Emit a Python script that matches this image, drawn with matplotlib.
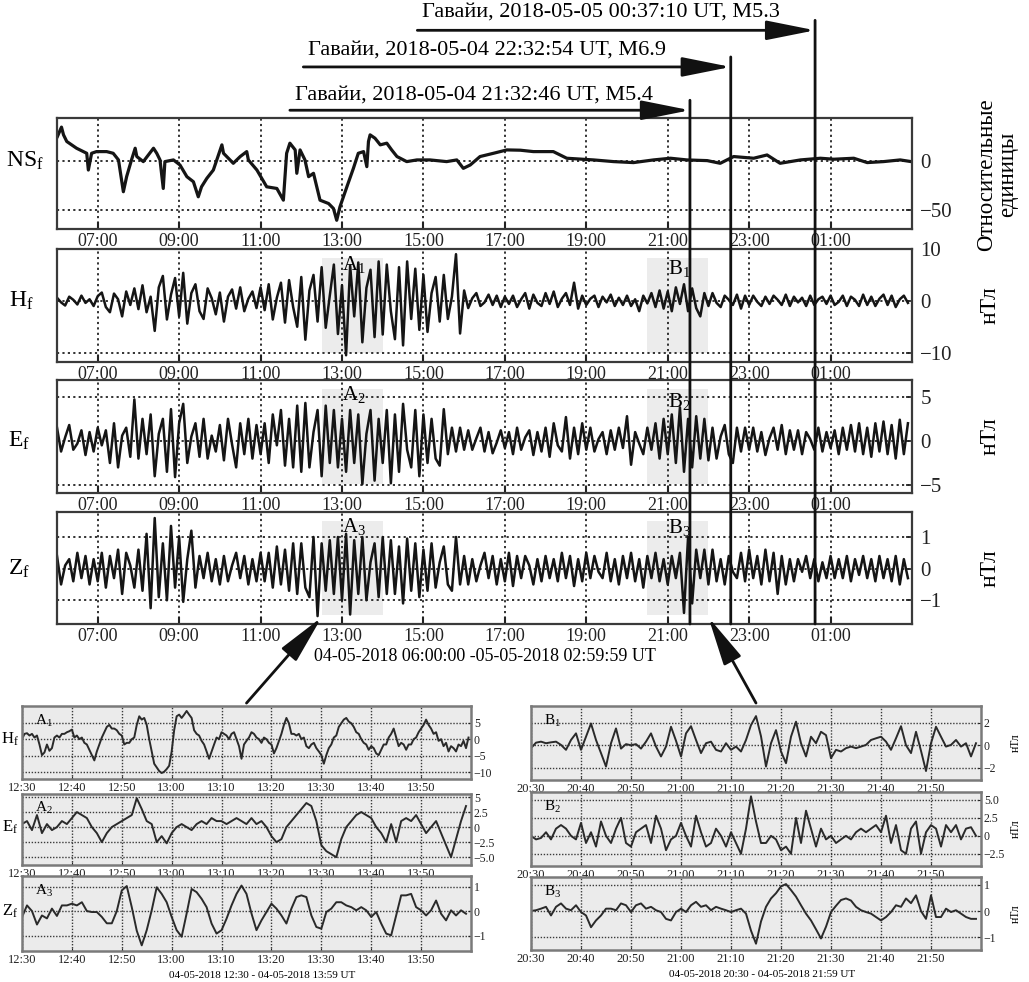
import numpy as np
import pandas as pd
import matplotlib
matplotlib.use("Agg")
import matplotlib.pyplot as plt
import matplotlib.transforms as mtransforms
from matplotlib.patches import ConnectionPatch

plt.rcParams['font.family'] = ['Liberation Serif', 'DejaVu Serif']
plt.rcParams['mathtext.fontset'] = 'custom'
plt.rcParams['mathtext.rm'] = 'Liberation Serif'
plt.rcParams['mathtext.it'] = 'Liberation Serif:italic'

# ------------------------------------------------------------------ data
window_start = '2018-05-04 06:00:00'
main_tick_hours = [1, 3, 5, 7, 9, 11, 13, 15, 17, 19]
main_tick_labels = ['07:00', '09:00', '11:00', '13:00', '15:00',
                    '17:00', '19:00', '21:00', '23:00', '01:00']
main_xlabel = '04-05-2018 06:00:00 -05-05-2018 02:59:59 UT'

event_times = ['2018-05-04 21:32:46', '2018-05-04 22:32:54', '2018-05-05 00:37:10']
event_mags = ['M5.4', 'M6.9', 'M5.3']
event_place = 'Гавайи'

region_a = ['2018-05-04 12:30:00', '2018-05-04 14:00:00']
region_b = ['2018-05-04 20:30:00', '2018-05-04 22:00:00']

# NS_f (relative units): sample hours since 06:00 and values
ns_t = [0.01, 0.11, 0.16, 0.24, 0.48, 0.73, 0.77, 0.85, 0.97, 1.22, 1.38, 1.51, 1.63,
        1.71, 1.83, 1.92, 1.96, 2.12, 2.37, 2.45, 2.53, 2.61, 2.65, 2.86, 3.02, 3.19,
        3.35, 3.47, 3.55, 3.68, 3.84, 4.05, 4.09, 4.33, 4.50, 4.66, 4.70, 4.91, 5.15,
        5.40, 5.56, 5.64, 5.72, 5.85, 5.89, 5.97, 6.09, 6.18, 6.30, 6.46, 6.67, 6.79,
        6.87, 6.95, 7.12, 7.28, 7.40, 7.53, 7.61, 7.65, 7.69, 7.81, 7.94, 8.10, 8.22,
        8.35, 8.59, 8.84, 9.16, 9.57, 9.82, 9.98, 10.15, 10.39, 10.72, 11.05, 11.38,
        11.70, 12.19, 12.52, 13.18, 13.67, 14.16, 14.65, 15.07, 15.47, 15.97, 16.29,
        16.62, 17.11, 17.44, 17.76, 18.26, 18.75, 19.08, 19.57, 19.90, 20.30, 20.71, 20.98]
ns_v = [24.3, 33.8, 26.0, 19.3, 12.5, 7.4, -9.5, 7.4, 9.1, 9.1, 7.4, 0.7, -31.4,
        -16.2, 0.7, 12.5, 4.1, -1.0, 12.5, 7.4, 0.7, -28.1, -1.0, 0.7, -4.4, -16.2,
        -21.3, -36.5, -26.4, -17.9, -9.5, 15.9, 7.4, -2.7, 4.1, 9.1, 0.7, -9.5, -26.4,
        -28.1, -39.9, 7.4, 17.6, 10.8, -12.8, 10.8, 0.7, -16.2, -12.8, -39.9, -43.3, -48.3,
        -60.2, -46.6, -26.4, -7.8, 7.4, 9.1, -6.1, 19.3, 26.0, 22.6, 15.9, 17.6, 10.8,
        4.1, -1.0, 0.7, 0.7, -1.0, 0.7, -7.8, -4.4, 4.1, 7.4, 10.8, 10.5,
        9.1, 9.1, 2.4, 0.7, -1.0, -2.0, 0.7, 2.4, 0.7, 0.0, -2.7,
        4.1, 2.4, 5.7, -2.7, 0.7, 2.4, 1.4, 2.4, -2.0, -1.0, 0.7, -1.0]

# H_f, E_f, Z_f (nT): 10 samples per hour from 06:00
h_f = [0.6, -0.3, -0.9, 0.8, 0.2, -0.7, 1.0, -0.4, 0.3, -1.0,
       0.9, 1.6, -1.2, -2.2, 1.4, 0.3, -3.0, 1.8, -0.8, 2.4,
       -1.6, 3.0, -2.2, 0.8, -5.8, 2.6, 4.8, -3.6, 1.2, 4.4,
       -3.0, 5.4, -4.4, 1.5, 3.2, -2.0, -3.5, 2.4, 0.5, -2.6,
       1.6, -4.0, 0.8, 2.2, -1.5, 2.6, -2.0, 0.4, 1.8, -1.4,
       2.6, -1.8, 3.2, -3.6, 0.6, 3.5, -4.2, 4.0, -1.2, -5.0,
       4.6, -7.5, 2.0, 5.0, -4.0, 6.5, -5.2, 1.0, 7.0, -6.4,
       3.0, -10.5, 6.8, -3.0, 7.4, -8.0, 2.5, 6.0, -7.0, 7.6,
       -6.5, 7.0, -2.0, -7.4, 6.5, -8.6, 7.6, -3.5, 6.2, -5.6,
       5.0, -6.0, 1.5, 4.6, -4.0, 5.0, -3.5, 0.8, 9.0, -6.3,
       2.0, -1.4, 0.5, 1.5, -1.0, -0.3, 1.2, -0.8, 1.0, -1.2,
       0.8, -0.6, 1.0, -1.2, 0.3, 1.5, -1.5, 1.2, -0.4, -1.0,
       1.5, -0.6, 1.8, -1.2, 0.4, 1.5, -0.8, 3.5, -1.5, 1.0,
       -0.8, 0.4, 1.0, -1.2, 0.8, -0.3, 1.2, -1.0, 0.6, -0.8,
       1.0, -1.0, 0.3, -2.0, 1.0, -0.5, 1.5, -1.2, 2.0, -1.5,
       1.8, -2.0, 2.6, -0.6, 3.2, -2.0, 2.4, -1.4, -3.0, 1.5,
       -1.0, 1.5, -0.4, -1.2, 1.0, 0.2, -0.8, 1.2, -1.5, 1.0,
       -0.8, 1.0, -0.2, -1.0, 0.8, -0.6, 1.0, 0.2, -0.8, 1.2,
       -1.0, 0.8, -0.3, 0.6, -1.0, 1.0, -0.8, 0.3, 0.8, -0.6,
       1.0, -0.8, -0.2, 1.0, -1.0, 0.8, 0.2, -1.0, 1.2, -0.8,
       0.8, -1.0, 0.4, 1.2, -0.8, 1.0, -1.2, 0.3, 1.0, -0.4]
e_f = [1.5, -1.2, 0.4, 1.8, -1.0, -0.3, 1.2, -1.6, 1.0, -1.2,
       1.5, -0.5, 1.2, -2.5, 2.0, -3.0, 0.6, 1.5, -1.8, 4.7,
       -2.0, 2.5, -1.5, 3.0, -4.0, 0.8, 2.5, -3.5, 3.6, -4.1,
       2.0, 4.2, -2.5, 0.5, 2.0, -1.8, 2.5, -2.0, 0.6, -1.2,
       1.8, -2.2, 2.5, -0.4, -3.0, 2.0, -1.5, 2.5, -2.0, 1.8,
       -1.5, 2.0, -2.5, 3.0, -0.5, 3.5, -2.8, 2.5, -3.0, 4.0,
       -3.5, 4.3, -3.0, 1.0, 3.5, -4.0, 4.0, -2.5, 3.5, -3.0,
       2.5, -3.5, 3.5, -2.5, 3.0, -4.9, 0.8, 3.5, -4.5, 2.5,
       -2.5, 3.5, -4.8, 3.0, -3.5, 4.2, -1.0, -3.0, 3.5, -4.0,
       3.0, -2.5, 2.5, -2.0, -2.8, 3.6, -1.5, 1.5, -1.2, 1.5,
       -1.0, 1.2, -1.0, 0.3, 1.5, -1.2, 1.0, -1.4, -0.2, 1.2,
       -0.8, 1.0, -1.5, 1.5, -1.0, 0.4, 1.2, -1.6, 1.0, -1.2,
       1.5, -1.8, 2.0, -0.5, -1.2, 2.7, -2.0, 1.5, -1.5, 2.0,
       -1.0, 1.5, -1.2, 0.2, 1.0, -1.5, 1.2, -1.0, 1.5, -0.8,
       2.8, -2.7, 1.0, -0.3, -1.5, 1.5, -1.0, 2.0, -2.0, 2.5,
       -1.5, 3.0, -2.5, 3.8, -3.5, 2.5, -3.0, 2.8, -2.0, 2.5,
       -2.2, 1.5, -2.0, 0.5, 1.8, -1.5, -2.5, 1.5, -1.2, 1.5,
       -1.0, 1.5, -1.2, 1.0, -1.6, 0.3, 1.5, -1.0, 1.8, -1.5,
       1.2, -1.0, 1.2, -1.5, 1.0, 0.2, -1.0, 1.5, -1.2, 1.0,
       -0.8, 1.2, -1.5, 1.5, -1.0, 1.8, -1.2, 2.0, -1.5, 1.5,
       -1.8, 2.0, -1.2, 2.2, -1.5, 1.8, -2.0, 2.4, -1.5, 2.0]
z_f = [0.4, -0.5, 0.1, 0.3, -0.4, 0.5, -0.3, 0.4, -0.5, 0.3,
       -0.4, 0.5, -0.6, 0.4, -0.3, 0.6, -0.8, 0.5, 0.1, -0.6,
       0.6, -0.7, 1.1, -1.25, 1.6, -0.9, 0.8, -1.0, 1.35, -0.6,
       1.0, -1.05, 0.3, 1.2, -0.6, 0.4, -0.3, 0.5, -0.4, 0.3,
       -0.5, 0.4, -0.4, 0.1, 0.5, -0.3, 0.4, -0.5, 0.3, -0.4,
       0.5, -0.4, 0.5, -0.6, 0.7, -0.5, 0.6, -0.7, 0.8, -0.8,
       0.8, -0.6, -0.9, 1.0, -1.5, 0.8, -0.7, 0.9, -0.8, 1.0,
       -1.0, 1.1, -1.45, 0.9, -0.8, 1.0, -1.0, 0.2, 0.8, -0.9,
       1.0, -0.8, 0.9, -0.8, 0.7, -1.1, 0.95, -0.7, 0.8, -0.9,
       0.6, -0.7, 0.8, -0.6, 0.2, 0.7, -0.5, -0.7, 1.0, -0.5,
       0.4, -0.5, 0.3, -0.4, 0.1, 0.5, -0.3, 0.4, -0.5, 0.3,
       -0.4, 0.5, -0.55, 0.4, -0.3, 0.4, 0.1, -0.5, 0.3, -0.4,
       0.4, -0.3, 0.3, -0.4, 0.5, -0.3, 0.4, -0.55, 0.3, -0.4,
       0.5, -0.3, 0.4, -0.1, -0.3, 0.5, -0.4, 0.3, -0.5, 0.4,
       -0.3, 0.5, -0.4, 0.3, -0.6, 0.4, -0.3, 0.5, -0.4, 0.3,
       -0.5, 0.4, -0.3, 0.5, -1.4, 1.0, -1.1, 0.6, -0.3, 0.6,
       -0.5, 0.6, -0.4, 0.3, -0.5, 0.4, -0.1, -0.3, 0.5, -0.4,
       0.6, -0.3, 0.4, -0.5, 0.6, -0.4, 0.5, -0.8, 0.4, -0.5,
       0.3, -0.4, 0.3, -0.1, 0.4, -0.3, 0.3, -0.4, 0.2, -0.3,
       0.4, -0.3, 0.3, -0.3, 0.4, -0.4, 0.3, -0.2, 0.4, -0.3,
       0.3, -0.4, 0.4, -0.3, 0.3, -0.4, 0.4, -0.5, 0.3, -0.3]

# zoomed windows (90 minutes each)
a_tick_labels = ['12:30', '12:40', '12:50', '13:00', '13:10', '13:20', '13:30', '13:40', '13:50']
b_tick_labels = ['20:30', '20:40', '20:50', '21:00', '21:10', '21:20', '21:30', '21:40', '21:50']
a_caption = '04-05-2018 12:30 - 04-05-2018 13:59 UT'
b_caption = '04-05-2018 20:30 - 04-05-2018 21:59 UT'

a1_h = [0, 1.6, 1.8, 1.1, 1.6, 0.5, 1.1, -1.6, -4.8, -4.0, -1.6, -3.5, -2.7, 0.5, 1.1, 0.5,
        1.6, 1.6, 2.1, 2.4, 2.9, 0.5, 1.1, 0, 0.5, -1.1, -1.6, -3.2, -4.8, -6.4, -3.7, -1.6,
        0.5, 2.1, 3.7, 4.3, 3.2, 3.2, 2.7, 1.6, 1.1, -1.6, -1.1, -1.1, 0, 0.5, 4.3, 6.9,
        5.9, 6.4, 4.3, 0, -3.7, -7.4, -8.5, -9.6, -10.2, -9.8, -9.0, -8.0, -3.7, 2.7, 6.9, 7.4,
        6.4, 7.4, 8.5, 7.4, 6.4, 2.7, 1.6, 1.1, -0.5, -1.6, -3.7, -5.9, -3.7, -1.6, 0.5, 0,
        2.1, 1.6, 1.1, 0, 1.6, 2.1, 0, -2.1, -5.9, -1.6, -0.5, 0.5, 2.1, 1.6, 0.5, 0,
        -1.1, 0.5, 0, -1.1, -1.6, -4.3, -2.7, -0.5, 1.6, 4.3, 6.4, 4.8, 1.6, 1.6, 1.1, 1.6,
        0, 0.5, -2.1, -2.7, -1.6, -1.1, -2.7, -3.7, -4.8, -7.4, -4.8, -2.7, -1.6, 0.5, 1.1, 3.7,
        4.8, 5.9, 6.4, 5.3, 4.8, 3.7, 2.1, 1.6, 0, -1.1, -1.6, -3.2, -2.1, -2.7, -4.3, -4.8,
        -3.2, -1.6, -1.6, 0.5, 1.6, 3.2, 0.5, -2.1, -1.1, -1.6, -3.2, -1.6, -1.6, 0, 0.5, 2.1,
        3.2, 4.3, 5.9, 4.3, 3.2, 1.6, 2.1, -0.5, 0, -2.1, -1.1, -3.7, -2.1, -2.7, -3.7, -1.6,
        -2.1, -0.5, -2.7, 0.5]
a2_e = [0.5, 1.0, -0.5, 2.0, -1.0, 0.5, -0.5, 0.0, 1.0, 0.5,
        1.5, 2.5, 2.0, 1.5, 0.0, -1.0, -2.5, -1.0, 0.0, 0.5,
        1.0, 1.5, 2.0, 4.8, 3.0, 1.0, 0.5, -2.5, -1.5, -2.7,
        -1.0, 0.0, 0.5, 0.0, -0.5, 0.5, 1.0, 0.5, 1.5, 1.0,
        1.0, 0.5, 1.0, 1.5, 1.0, 0.5, 1.5, 0.5, 1.0, 0.0,
        -1.5, -2.5, -2.0, 0.0, 1.0, 2.0, 3.0, 4.0, 3.5, 1.0,
        -3.0, -4.0, -4.5, -5.0, -2.0, 0.0, 1.0, 2.0, 2.5, 2.0,
        1.5, 0.0, -1.0, -2.5, 0.5, -2.5, 1.0, 1.5, 1.0, 2.0,
        0.5, -1.0, 0.0, 1.0, -1.0, -3.0, -5.0, -2.0, 1.0, 3.5]
a3_z = [-0.25, 0.23, 0.0, -0.55, -0.18, -0.3, 0.1, -0.2, 0.23, 0.23,
        0.3, 0.23, 0.36, 0.0, -0.04, -0.04, -0.24, -0.5, -0.5, 0.0,
        0.84, 1.02, 0.16, -0.8, -1.4, -0.78, 0.03, 0.97, 0.7, 0.36,
        -0.24, -0.78, -1.05, -0.1, 0.9, 0.77, 0.5, 0.16, -0.51, -0.92,
        -0.78, -0.31, 0.23, 0.7, 1.04, 0.7, -0.1, -0.78, -0.38, -0.04,
        0.3, 0.1, -0.18, -0.51, 0.1, 0.57, 0.64, 0.57, -0.18, -0.65,
        -0.72, -0.04, 0.1, 0.36, 0.36, 0.23, 0.16, 0.03, 0.16, 0.03,
        -0.24, -0.04, -0.51, -0.92, -0.99, -0.18, 0.64, 0.64, 0.7, 0.16,
        0.03, -0.18, 0.03, 0.43, -0.11, -0.38, 0.03, -0.18, 0.03, -0.11]
b1_h = [-0.26, 0.23, 0.32, 0.18, 0.26, 0.32, 0.03, -0.41, 0.47, 1.06,
        -0.41, 0.76, 1.94, 0.47, -0.7, -1.9, 0.18, 1.5, -0.3, 0.1,
        0.0, 0.1, -0.3, 0.32, 1.06, -0.12, -1.0, -0.12, 1.65, 0.4,
        -1.0, 1.06, 1.7, 0.47, -0.7, 0.18, 0.32, -0.41, -0.56, 0.18,
        -0.41, -0.12, -0.56, 0.47, 1.8, 2.6, 0.8, -1.9, 0.18, 1.35,
        -0.56, -1.6, 0.76, 2.1, 0.18, -1.0, 0.76, 0.18, 1.2, 0.9,
        -1.15, -0.41, -0.56, -0.26, -0.12, -0.26, -0.12, 0.03, 0.47, 0.62,
        0.76, 0.32, -0.41, 0.62, 1.7, 0.0, -0.7, 1.2, -0.5, -2.3,
        0.18, 1.65, 0.76, -0.12, 0.03, 0.47, -0.12, 0.18, -1.0, 0.18]
b2_e = [0.0, -0.5, -0.3, 0.5, -0.5, 1.0, 1.5, 1.0, 0.0, -0.5,
        1.8, -1.0, 0.5, -1.5, 2.0, 0.0, -1.0, 1.0, 2.5, -1.0,
        -1.5, 0.5, 1.0, 1.5, -1.0, 2.8, 1.0, -2.0, -0.5, 0.0,
        1.8, 0.0, -1.5, 2.8, 0.5, -1.5, -1.0, 1.0, 0.0, -1.5,
        0.5, -1.0, -2.5, 1.0, 5.5, 2.0, -1.0, -1.0, 0.0, -0.5,
        -2.0, -1.5, -2.5, 2.5, -1.0, 3.5, 1.0, -1.5, 1.0, -0.5,
        0.0, -1.0, -0.5, 0.0, -0.5, 0.5, 1.0, 0.5, 1.0, 1.5,
        0.5, 2.8, -1.0, 1.5, -2.0, -2.5, 1.0, 2.0, -2.5, 0.5,
        1.5, 1.0, -1.5, 1.5, 0.5, 1.5, -0.5, 1.0, 1.2, 0.0]
b3_z = [0.0, 0.03, 0.09, 0.16, -0.17, 0.16, 0.29, 0.09, 0.03, 0.22,
        -0.04, -0.17, -0.62, -0.36, -0.17, 0.09, 0.09, 0.03, 0.29, 0.22,
        -0.04, 0.22, 0.29, 0.09, 0.16, 0.03, -0.04, -0.3, -0.36, -0.04,
        0.09, -0.04, 0.22, 0.35, 0.16, 0.22, 0.03, 0.16, 0.09, 0.03,
        -0.04, 0.03, 0.09, -0.1, -0.75, -1.25, -0.4, 0.16, 0.48, 0.68,
        0.94, 1.03, 0.8, 0.55, 0.22, -0.1, -0.36, -0.7, -1.05, -0.6,
        -0.04, 0.2, 0.42, 0.48, 0.4, 0.16, 0.03, -0.04, -0.1, -0.23,
        -0.36, -0.23, -0.04, 0.22, 0.16, 0.48, 0.3, 0.6, 0.0, -0.3,
        0.6, -0.23, -0.23, 0.09, -0.04, 0.03, -0.1, -0.23, -0.3, -0.3]

# ------------------------------------------------------------------ figure
W, H = 1029, 982
fig = plt.figure(figsize=(W / 100, H / 100), dpi=100)


def px_axes(x0, y0, x1, y1):
    return fig.add_axes([x0 / W, 1 - y1 / H, (x1 - x0) / W, (y1 - y0) / H])


start = pd.Timestamp(window_start)


def hours(s):
    return (pd.Timestamp(s) - start).total_seconds() / 3600.0


ink = '#151515'
grid_kw = dict(linestyle=(0, (1.2, 1.8)), color='#222222', linewidth=1.3)


def style_main(ax, ylim, yticks, yticklabels):
    ax.set_xlim(0, 21)
    ax.set_ylim(*ylim)
    ax.set_xticks(main_tick_hours)
    ax.set_xticklabels(main_tick_labels, fontsize=13)
    ax.yaxis.tick_right()
    ax.set_yticks(yticks)
    ax.set_yticklabels(yticklabels, fontsize=15)
    ax.tick_params(axis='x', direction='in', length=5, width=1.5, pad=3, colors='#222')
    ax.tick_params(axis='y', direction='in', length=4, width=1.2, pad=6, colors='#222')
    ax.grid(True, **grid_kw)
    ax.set_axisbelow(True)
    for s in ax.spines.values():
        s.set_linewidth(1.6)
        s.set_color('#3a3a3a')


ax1 = px_axes(57, 118, 912, 229)
ax2 = px_axes(57, 249, 912, 362)
ax3 = px_axes(57, 380, 912, 493)
ax4 = px_axes(57, 512, 912, 624)

ax1.plot(ns_t, ns_v, color=ink, lw=2.3)
style_main(ax1, (-69, 43), [0, -50], ['0', '\u221250'])

for ax, series, ylim, yt, ytl in [
        (ax2, h_f, (-11.8, 10.0), [10, 0, -10], ['10', '0', '\u221210']),
        (ax3, e_f, (-5.9, 6.9), [5, 0, -5], ['5', '0', '\u22125']),
        (ax4, z_f, (-1.75, 1.79), [1, 0, -1], ['1', '0', '\u22121'])]:
    for reg in (region_a, region_b):
        ax.axvspan(hours(reg[0]), hours(reg[1]), ymin=0.08, ymax=0.92,
                   color='#ececec', zorder=0.5, lw=0)
    ax.plot(np.arange(len(series)) / 10.0, series, color=ink, lw=1.8, zorder=2)
    style_main(ax, ylim, yt, ytl)

ax4.set_xlabel(main_xlabel, fontsize=13, labelpad=2)

# left labels
for ax, lab, xf in [(ax1, r'NS$_\mathrm{f}$', -0.037), (ax2, r'H$_\mathrm{f}$', -0.042),
                    (ax3, r'E$_\mathrm{f}$', -0.044), (ax4, r'Z$_\mathrm{f}$', -0.044)]:
    tr = mtransforms.blended_transform_factory(ax.transAxes, ax.transData)
    ax.text(xf, 0, lab, transform=tr, ha='center', va='center', fontsize=17)

# right unit labels
ax1.text(1.099, 0.49, 'Относительные\nединицы', transform=ax1.transAxes, rotation=90,
         ha='center', va='center', fontsize=16.5, linespacing=1.0)
for ax in (ax2, ax3, ax4):
    ax.text(1.091, 0.5, 'нТл', transform=ax.transAxes, rotation=90,
            ha='center', va='center', fontsize=17)

# region labels in main panels
for ax, i, ya, yb in [(ax2, 1, 0.86, 0.83), (ax3, 2, 0.87, 0.81), (ax4, 3, 0.87, 0.86)]:
    tr = mtransforms.blended_transform_factory(ax.transData, ax.transAxes)
    ax.text(hours(region_a[0]) + 0.5, ya, 'A$_{%d}$' % i, transform=tr, fontsize=15,
            ha='left', va='center', zorder=5)
    ax.text(hours(region_b[0]) + 0.5, yb, 'B$_{%d}$' % i, transform=tr, fontsize=15,
            ha='left', va='center', zorder=5)

# earthquake markers
ev_h = [hours(s) for s in event_times]
arrow_y = [1.07, 1.46, 1.79]        # axes fraction of ax1 (layout)
text_y = [1.21, 1.615, 1.955]
arrow_x0 = [5.72, 6.05, 8.85]       # hours (layout)
x1tr = ax1.get_xaxis_transform()
x4tr = ax4.get_xaxis_transform()
for k in range(3):
    con = ConnectionPatch(xyA=(ev_h[k], 0.0), coordsA=x4tr,
                          xyB=(ev_h[k], arrow_y[k] + 0.09), coordsB=x1tr,
                          color='#111', lw=2.0, zorder=10)
    fig.add_artist(con)
    ax1.annotate('', xy=(ev_h[k], arrow_y[k]), xycoords=x1tr,
                 xytext=(arrow_x0[k], arrow_y[k]), textcoords=x1tr,
                 arrowprops=dict(arrowstyle='-|>,head_length=1.5,head_width=0.3',
                                 lw=2.0, color='#111', shrinkA=0, shrinkB=0,
                                 mutation_scale=20),
                 annotation_clip=False)
    ax1.text(arrow_x0[k] + 0.12, text_y[k],
             '%s, %s UT, %s' % (event_place, event_times[k], event_mags[k]),
             transform=x1tr, fontsize=16, ha='left', va='center', clip_on=False)

# ------------------------------------------------------------------ small panels
sa1 = px_axes(22, 706, 471, 779)
sa2 = px_axes(22, 794, 471, 865)
sa3 = px_axes(22, 876, 471, 951)
sb1 = px_axes(531, 706, 981, 780)
sb2 = px_axes(531, 792, 981, 866)
sb3 = px_axes(531, 877, 981, 950)

small_grid = dict(linestyle=(0, (1.0, 1.2)), color='#3a3a3a', linewidth=1.0)


def style_small(ax, labels, ylim, yticks, yticklabels):
    ax.set_facecolor('#ebebeb')
    ax.set_xlim(0, 90)
    ax.set_ylim(*ylim)
    ax.set_xticks(range(0, 90, 10))
    ax.set_xticklabels(labels, fontsize=9)
    ax.yaxis.tick_right()
    ax.set_yticks(yticks)
    ax.set_yticklabels(yticklabels, fontsize=8.5)
    ax.tick_params(axis='both', direction='in', length=2, width=0.8, pad=2, colors='#222')
    ax.grid(True, **small_grid)
    ax.set_axisbelow(True)
    for s in ax.spines.values():
        s.set_linewidth(1.8)
        s.set_color('#7a7a7a')


small = [
    (sa1, a1_h, a_tick_labels, (-12, 10), [5, 0, -5, -10], ['5', '0', '\u22125', '\u221210'], 'A$_1$'),
    (sa2, a2_e, a_tick_labels, (-6.3, 5.5), [5, 2.5, 0, -2.5, -5], ['5', '2.5', '0', '\u22122.5', '\u22125.0'], 'A$_2$'),
    (sa3, a3_z, a_tick_labels, (-1.63, 1.43), [1, 0, -1], ['1', '0', '\u22121'], 'A$_3$'),
    (sb1, b1_h, b_tick_labels, (-3.1, 3.5), [2, 0, -2], ['2', '0', '\u22122'], 'B$_1$'),
    (sb2, b2_e, b_tick_labels, (-4.2, 6.1), [5, 2.5, 0, -2.5], ['5.0', '2.5', '0', '\u22122.5'], 'B$_2$'),
    (sb3, b3_z, b_tick_labels, (-1.49, 1.3), [1, 0, -1], ['1', '0', '\u22121'], 'B$_3$'),
]
for ax, data, labs, ylim, yt, ytl, name in small:
    tt = np.arange(len(data)) * 90.0 / len(data)
    ax.plot(tt, data, color='#2a2a2a', lw=1.4)
    style_small(ax, labs, ylim, yt, ytl)
    ax.text(0.03, 0.8, name, transform=ax.transAxes, fontsize=11, ha='left', va='center')

for ax, lab in [(sa1, r'H$_\mathrm{f}$'), (sa2, r'E$_\mathrm{f}$'), (sa3, r'Z$_\mathrm{f}$')]:
    tr = mtransforms.blended_transform_factory(ax.transAxes, ax.transData)
    ax.text(-0.027, 0, lab, transform=tr, ha='center', va='center', fontsize=12)
for ax in (sb1, sb2, sb3):
    ax.text(1.077, 0.5, 'нТл', transform=ax.transAxes, rotation=90,
            ha='center', va='center', fontsize=8.5)

sa3.set_xlabel(a_caption, fontsize=8, labelpad=4)
sa3.xaxis.label.set_x(0.535)
sb3.set_xlabel(b_caption, fontsize=8, labelpad=4)
sb3.xaxis.label.set_x(0.513)

# arrows from the zoom windows to the highlighted intervals
for src, reg in [(sa1, region_a[0]), (sb1, region_b[1])]:
    con = ConnectionPatch(xyA=(0.5, 1.04), coordsA=src.transAxes,
                          xyB=(hours(reg), 0.06), coordsB=x4tr,
                          arrowstyle='-|>,head_length=1.5,head_width=0.3',
                          mutation_scale=20, lw=2.0, color='#111',
                          shrinkA=0, shrinkB=0, zorder=10)
    fig.add_artist(con)

fig.savefig('out.png', dpi=100)
